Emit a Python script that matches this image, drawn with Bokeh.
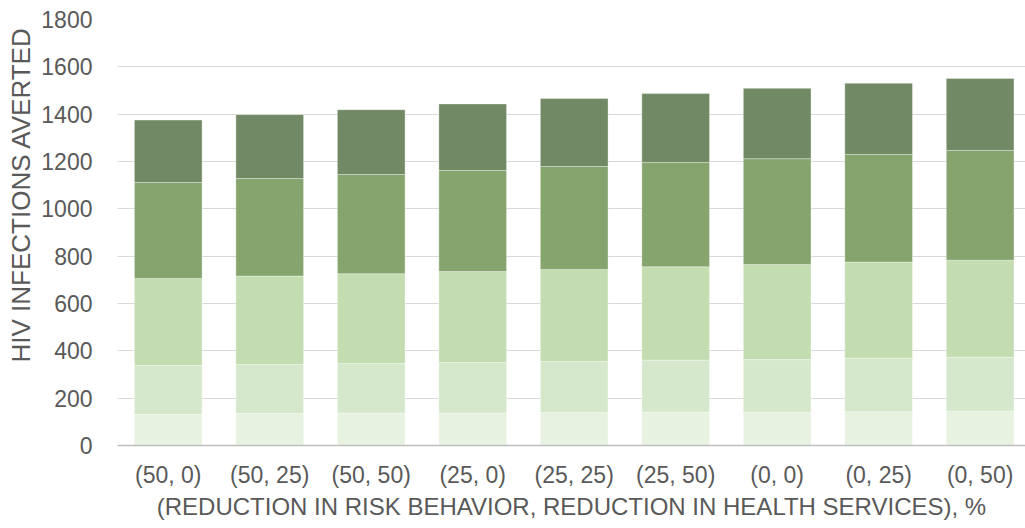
from bokeh.plotting import figure
from bokeh.models import ColumnDataSource, FixedTicker, Title
from bokeh.embed import file_html
from bokeh.resources import INLINE

categories = ["(50, 0)", "(50, 25)", "(50, 50)", "(25, 0)", "(25, 25)",
              "(25, 50)", "(0, 0)", "(0, 25)", "(0, 50)"]
seg1 = [131, 135, 137, 137, 139, 141, 140, 143, 145]
seg2 = [207, 207, 210, 214, 216, 220, 223, 226, 228]
seg3 = [368, 374, 379, 384, 389, 394, 402, 406, 410]
seg4 = [405, 412, 419, 427, 435, 441, 447, 455, 464]
seg5 = [264, 270, 274, 281, 287, 291, 297, 301, 304]
y_ticks = [0, 200, 400, 600, 800, 1000, 1200, 1400, 1600, 1800]

colors = ["#e8f2e1", "#d6e8cb", "#c3dcb0", "#85a46e", "#718964"]
FONT = "Liberation Sans"
TXT = "#595959"

x = list(range(len(categories)))
src = ColumnDataSource(dict(x=x, seg1=seg1, seg2=seg2, seg3=seg3, seg4=seg4, seg5=seg5))

p = figure(width=1025, height=528, output_backend="svg", toolbar_location=None,
           x_range=(-0.5, 8.447), y_range=(0, 1800),
           min_border_left=116, min_border_right=0, min_border_top=19, min_border_bottom=83)

p.vbar_stack(["seg1", "seg2", "seg3", "seg4", "seg5"], x="x", width=0.667,
             color=colors, source=src, line_color="white", line_alpha=0.35, line_width=1)

p.outline_line_color = None
p.xgrid.grid_line_color = None
p.ygrid.grid_line_color = "#d9d9d9"
p.ygrid.grid_line_width = 1

p.xaxis.ticker = FixedTicker(ticks=x)
p.xaxis.major_label_overrides = {i: c for i, c in enumerate(categories)}
p.xaxis.axis_line_color = "#bfbfbf"
p.xaxis.axis_line_width = 1.5
p.xaxis.major_tick_line_color = None
p.xaxis.minor_tick_line_color = None
p.xaxis.major_label_standoff = 10
p.xaxis.major_label_text_font = FONT
p.xaxis.major_label_text_font_size = "23px"
p.xaxis.major_label_text_color = TXT
p.xaxis.axis_label = "(REDUCTION IN RISK BEHAVIOR, REDUCTION IN HEALTH SERVICES), %"
p.xaxis.axis_label_text_font = FONT
p.xaxis.axis_label_text_font_size = "24px"
p.xaxis.axis_label_text_font_style = "normal"
p.xaxis.axis_label_text_color = TXT
p.xaxis.axis_label_standoff = 2

p.yaxis.ticker = FixedTicker(ticks=y_ticks)
p.yaxis.axis_line_color = None
p.yaxis.major_tick_line_color = None
p.yaxis.minor_tick_line_color = None
p.yaxis.major_label_standoff = 19
p.yaxis.major_label_text_font = FONT
p.yaxis.major_label_text_font_size = "23px"
p.yaxis.major_label_text_color = TXT

p.add_layout(Title(text="HIV INFECTIONS AVERTED", align="left", offset=83,
                   text_font=FONT, text_font_size="26px", text_font_style="normal",
                   text_color=TXT, standoff=6), "left")

open("out.html", "w").write(file_html(p, INLINE))
